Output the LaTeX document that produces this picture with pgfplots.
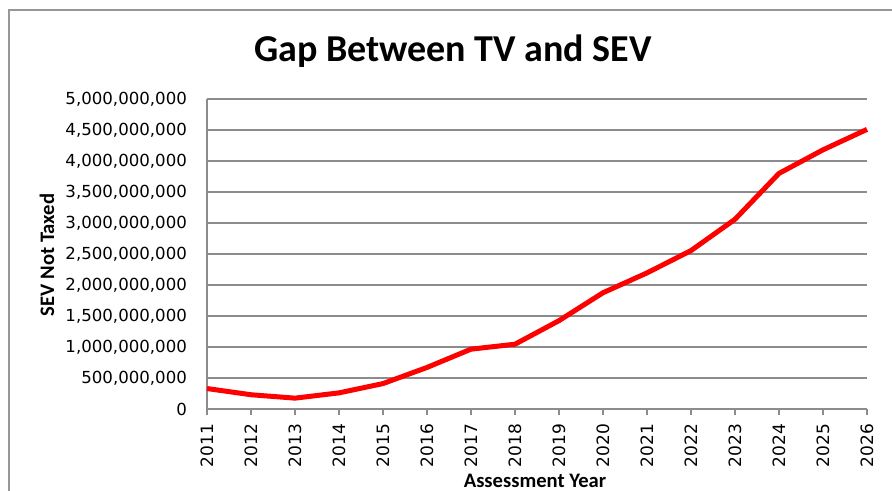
\documentclass[border=0pt]{standalone}
\usepackage{fontspec}
\setmainfont{DejaVu Sans}
\newfontfamily\carlito{Carlito}
\usepackage{pgfplots}
\pgfplotsset{compat=1.18}
\definecolor{gridgray}{HTML}{8C8C8C}
\definecolor{linered}{HTML}{FF0000}
\begin{document}
\begin{tikzpicture}
  \path[use as bounding box] (-103.5pt,-41pt) rectangle (342.5pt,204.5pt);
  \begin{axis}[
    at={(0,0)}, anchor=south west,
    scale only axis,
    width=330pt, height=155pt,
    xmin=2011, xmax=2026,
    ymin=0, ymax=5000000000,
    xtick={2011,...,2026},
    ytick={0,500000000,...,5000000000},
    scaled y ticks=false,
    axis x line*=bottom,
    axis y line*=left,
    axis line style={-, draw=gridgray, line width=1pt},
    ymajorgrids,
    grid style={draw=gridgray, line width=1pt},
    tick align=outside,
    major tick length=3pt,
    xtick style={draw=gridgray, line width=1pt},
    ytick style={draw=none},
    /pgf/number format/assume math mode=true,
    x tick label style={font=\fontsize{8.5}{9}\selectfont, rotate=90, anchor=east,
      /pgf/number format/1000 sep={}},
    y tick label style={font=\fontsize{8.3}{9}\selectfont,
      /pgf/number format/fixed, /pgf/number format/precision=0,
      /pgf/number format/1000 sep={,}},
    xticklabel shift=1pt,
    yticklabel shift=3.5pt,
    clip=false,
  ]
    \addplot[linered, line width=2.5pt, line join=round] coordinates {
      (2011,330000000) (2012,230000000) (2013,175000000) (2014,260000000)
      (2015,410000000) (2016,670000000) (2017,965000000) (2018,1045000000)
      (2019,1425000000) (2020,1875000000) (2021,2195000000) (2022,2555000000)
      (2023,3060000000) (2024,3800000000) (2025,4180000000) (2026,4510000000)
    };
  \end{axis}
  \node[anchor=base, font=\carlito\bfseries\fontsize{19}{21}\selectfont] at (123pt,173.5pt) {Gap Between TV and SEV};
  \node[rotate=90, font=\carlito\bfseries\fontsize{10.3}{11}\selectfont] at (-80pt,77pt) {SEV Not Taxed};
  \node[font=\carlito\bfseries\fontsize{10.3}{11}\selectfont] at (164pt,-36pt) {Assessment Year};
  \draw[gridgray!90, line width=1pt] (-98.75pt,-45pt) -- (-98.75pt,199.25pt) -- (350pt,199.25pt);
\end{tikzpicture}
\end{document}
